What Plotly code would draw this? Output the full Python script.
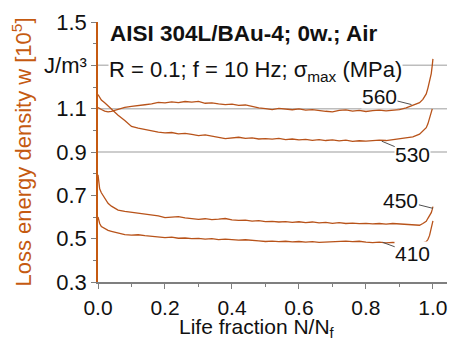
import plotly.graph_objects as go

# ---- data ----
life_fraction = [0, 0.005, 0.01, 0.02, 0.03, 0.04,
                 0.06, 0.08, 0.10, 0.12, 0.14, 0.16, 0.18, 0.20, 0.22, 0.24,
                 0.26, 0.28, 0.30, 0.32, 0.34, 0.36, 0.38, 0.40, 0.42, 0.44,
                 0.46, 0.48, 0.50, 0.52, 0.54, 0.56, 0.58, 0.60, 0.62, 0.64,
                 0.66, 0.68, 0.70, 0.72, 0.74, 0.76, 0.78, 0.80, 0.82, 0.84,
                 0.86, 0.88, 0.90, 0.92, 0.94, 0.96,
                 0.97, 0.98, 0.985, 0.99, 0.995, 0.998, 1.0]

w_560 = [1.105, 1.100, 1.096, 1.089, 1.085, 1.088,
         1.097, 1.106, 1.111, 1.116, 1.118, 1.122, 1.129, 1.127, 1.131, 1.128,
         1.133, 1.130, 1.134, 1.125, 1.127, 1.122, 1.119, 1.121, 1.115, 1.117,
         1.110, 1.104, 1.100, 1.096, 1.101, 1.097, 1.095, 1.099, 1.093, 1.096,
         1.091, 1.088, 1.085, 1.092, 1.094, 1.089, 1.092, 1.087, 1.091, 1.093,
         1.090, 1.094, 1.096, 1.104, 1.115, 1.128,
         1.143, 1.168, 1.195, 1.225, 1.262, 1.300, 1.330]

w_530 = [1.165, 1.150, 1.140, 1.127, 1.112, 1.100,
         1.070, 1.045, 1.018, 1.010, 1.003, 0.999, 0.992, 0.988, 0.990, 0.984,
         0.986, 0.981, 0.976, 0.979, 0.972, 0.968, 0.962, 0.966, 0.968, 0.963,
         0.965, 0.960, 0.962, 0.959, 0.963, 0.957, 0.960, 0.956, 0.958, 0.954,
         0.957, 0.953, 0.956, 0.951, 0.955, 0.949, 0.952, 0.950, 0.954, 0.955,
         0.953, 0.958, 0.960, 0.965, 0.970, 0.982,
         0.995, 1.012, 1.030, 1.062, 1.092, 1.099, None]

w_450 = [0.795, 0.730, 0.712, 0.684, 0.663, 0.650,
         0.632, 0.626, 0.622, 0.618, 0.615, 0.612, 0.605, 0.597, 0.600, 0.602,
         0.596, 0.594, 0.589, 0.592, 0.588, 0.590, 0.593, 0.587, 0.584, 0.586,
         0.581, 0.583, 0.579, 0.580, 0.577, 0.579, 0.575, 0.578, 0.574, 0.577,
         0.573, 0.575, 0.571, 0.574, 0.570, 0.572, 0.569, 0.571, 0.568, 0.570,
         0.567, 0.570, 0.568, 0.566, 0.563, 0.562,
         0.570, 0.580, 0.594, 0.606, 0.620, 0.635, 0.648]

w_410 = [0.600, 0.570, 0.556, 0.545, 0.538, 0.534,
         0.527, 0.519, 0.516, 0.518, 0.514, 0.511, 0.508, 0.505, 0.507, 0.502,
         0.503, 0.500, 0.501, 0.498, 0.500, 0.496, 0.498, 0.495, 0.493, 0.495,
         0.491, 0.490, 0.487, 0.489, 0.486, 0.488, 0.485, 0.487, 0.484, 0.486,
         0.483, 0.485, 0.484, 0.487, 0.489, 0.486, 0.488, 0.484, 0.482, 0.484,
         0.481, 0.483, 0.480, 0.482, 0.479, 0.481,
         0.481, 0.486, 0.496, 0.515, 0.548, 0.575, 0.582]

series = {"560": w_560, "530": w_530, "450": w_450, "410": w_410}

# label: (point on curve x, y, label offset ax, ay in px)
labels = {"560": (0.936, 1.119, -32, -8),
          "530": (0.847, 0.950, 31, 13),
          "450": (1.0, 0.640, -32, -8),
          "410": (0.850, 0.483, 30, 11)}

grid_levels = [0.9, 1.1, 1.3]

FONT = "Arial, Liberation Sans, sans-serif"
CURVE = "#b8531a"
ORANGE = "#c55a11"

fig = go.Figure()
for name, vals in series.items():
    fig.add_trace(go.Scatter(x=life_fraction, y=vals, mode="lines",
                             line=dict(color=CURVE, width=1.3),
                             name=name, showlegend=False, connectgaps=False))

for g in grid_levels:
    fig.add_shape(type="line", xref="x domain", x0=0, x1=1, yref="y", y0=g, y1=g,
                  line=dict(color="#bdbdbd", width=1.5), layer="below")

for name, (px, py, ax, ay) in labels.items():
    fig.add_annotation(x=px, y=py, text=name, showarrow=True, arrowhead=0,
                       arrowwidth=1, arrowcolor="#505050", ax=ax, ay=ay,
                       font=dict(family=FONT, size=21, color="#111"),
                       bgcolor="white", borderpad=0)

fig.add_annotation(xref="paper", yref="paper", x=0.028, y=0.955, xanchor="left",
                   yanchor="middle", showarrow=False,
                   text="<b>AISI 304L/BAu-4; 0w.; Air</b>",
                   font=dict(family=FONT, size=22.5, color="#111"))
fig.add_annotation(xref="paper", yref="paper", x=0.028, y=0.81, xanchor="left",
                   yanchor="middle", showarrow=False,
                   text="R = 0.1; f = 10 Hz; σ<sub>max</sub> (MPa)",
                   font=dict(family=FONT, size=22, color="#111"),
                   bgcolor="white", borderpad=0)
fig.add_annotation(xref="paper", yref="paper", x=0.455, y=-0.177, xanchor="center",
                   yanchor="middle", showarrow=False,
                   text="Life fraction N/N<sub>f</sub>",
                   font=dict(family=FONT, size=21, color="#111"))

fig.update_layout(
    width=451, height=340,
    margin=dict(l=98, r=4, t=22, b=58),
    paper_bgcolor="white", plot_bgcolor="white",
    font=dict(family=FONT, color="#111"),
    xaxis=dict(range=[0, 1.042], tickmode="linear", tick0=0, dtick=0.2,
               tickformat=".1f", showgrid=False, zeroline=False,
               showline=True, linecolor="#7f7f7f", linewidth=1.5,
               ticks="outside", ticklen=5, tickcolor="#7f7f7f", tickwidth=1,
               minor=dict(dtick=0.1, ticks="outside", ticklen=3, tickcolor="#7f7f7f"),
               ticklabelstandoff=1,
               tickfont=dict(size=21, family=FONT, color="#111")),
    yaxis=dict(range=[0.3, 1.5], tickmode="linear", tick0=0.3, dtick=0.2,
               tickformat=".1f", labelalias={"1.3": "J/m³"},
               showgrid=False, zeroline=False,
               showline=True, linecolor=ORANGE, linewidth=1.5,
               ticks="outside", ticklen=5, tickcolor="#7f7f7f", tickwidth=1,
               minor=dict(dtick=0.1, ticks="outside", ticklen=3, tickcolor="#7f7f7f"),
               tickfont=dict(size=22, family=FONT, color="#111"),
               title=dict(text="Loss energy density w [10<sup>5</sup>]",
                          font=dict(size=22, family=FONT, color=ORANGE),
                          standoff=6)),
)

fig.write_html("out.html")
